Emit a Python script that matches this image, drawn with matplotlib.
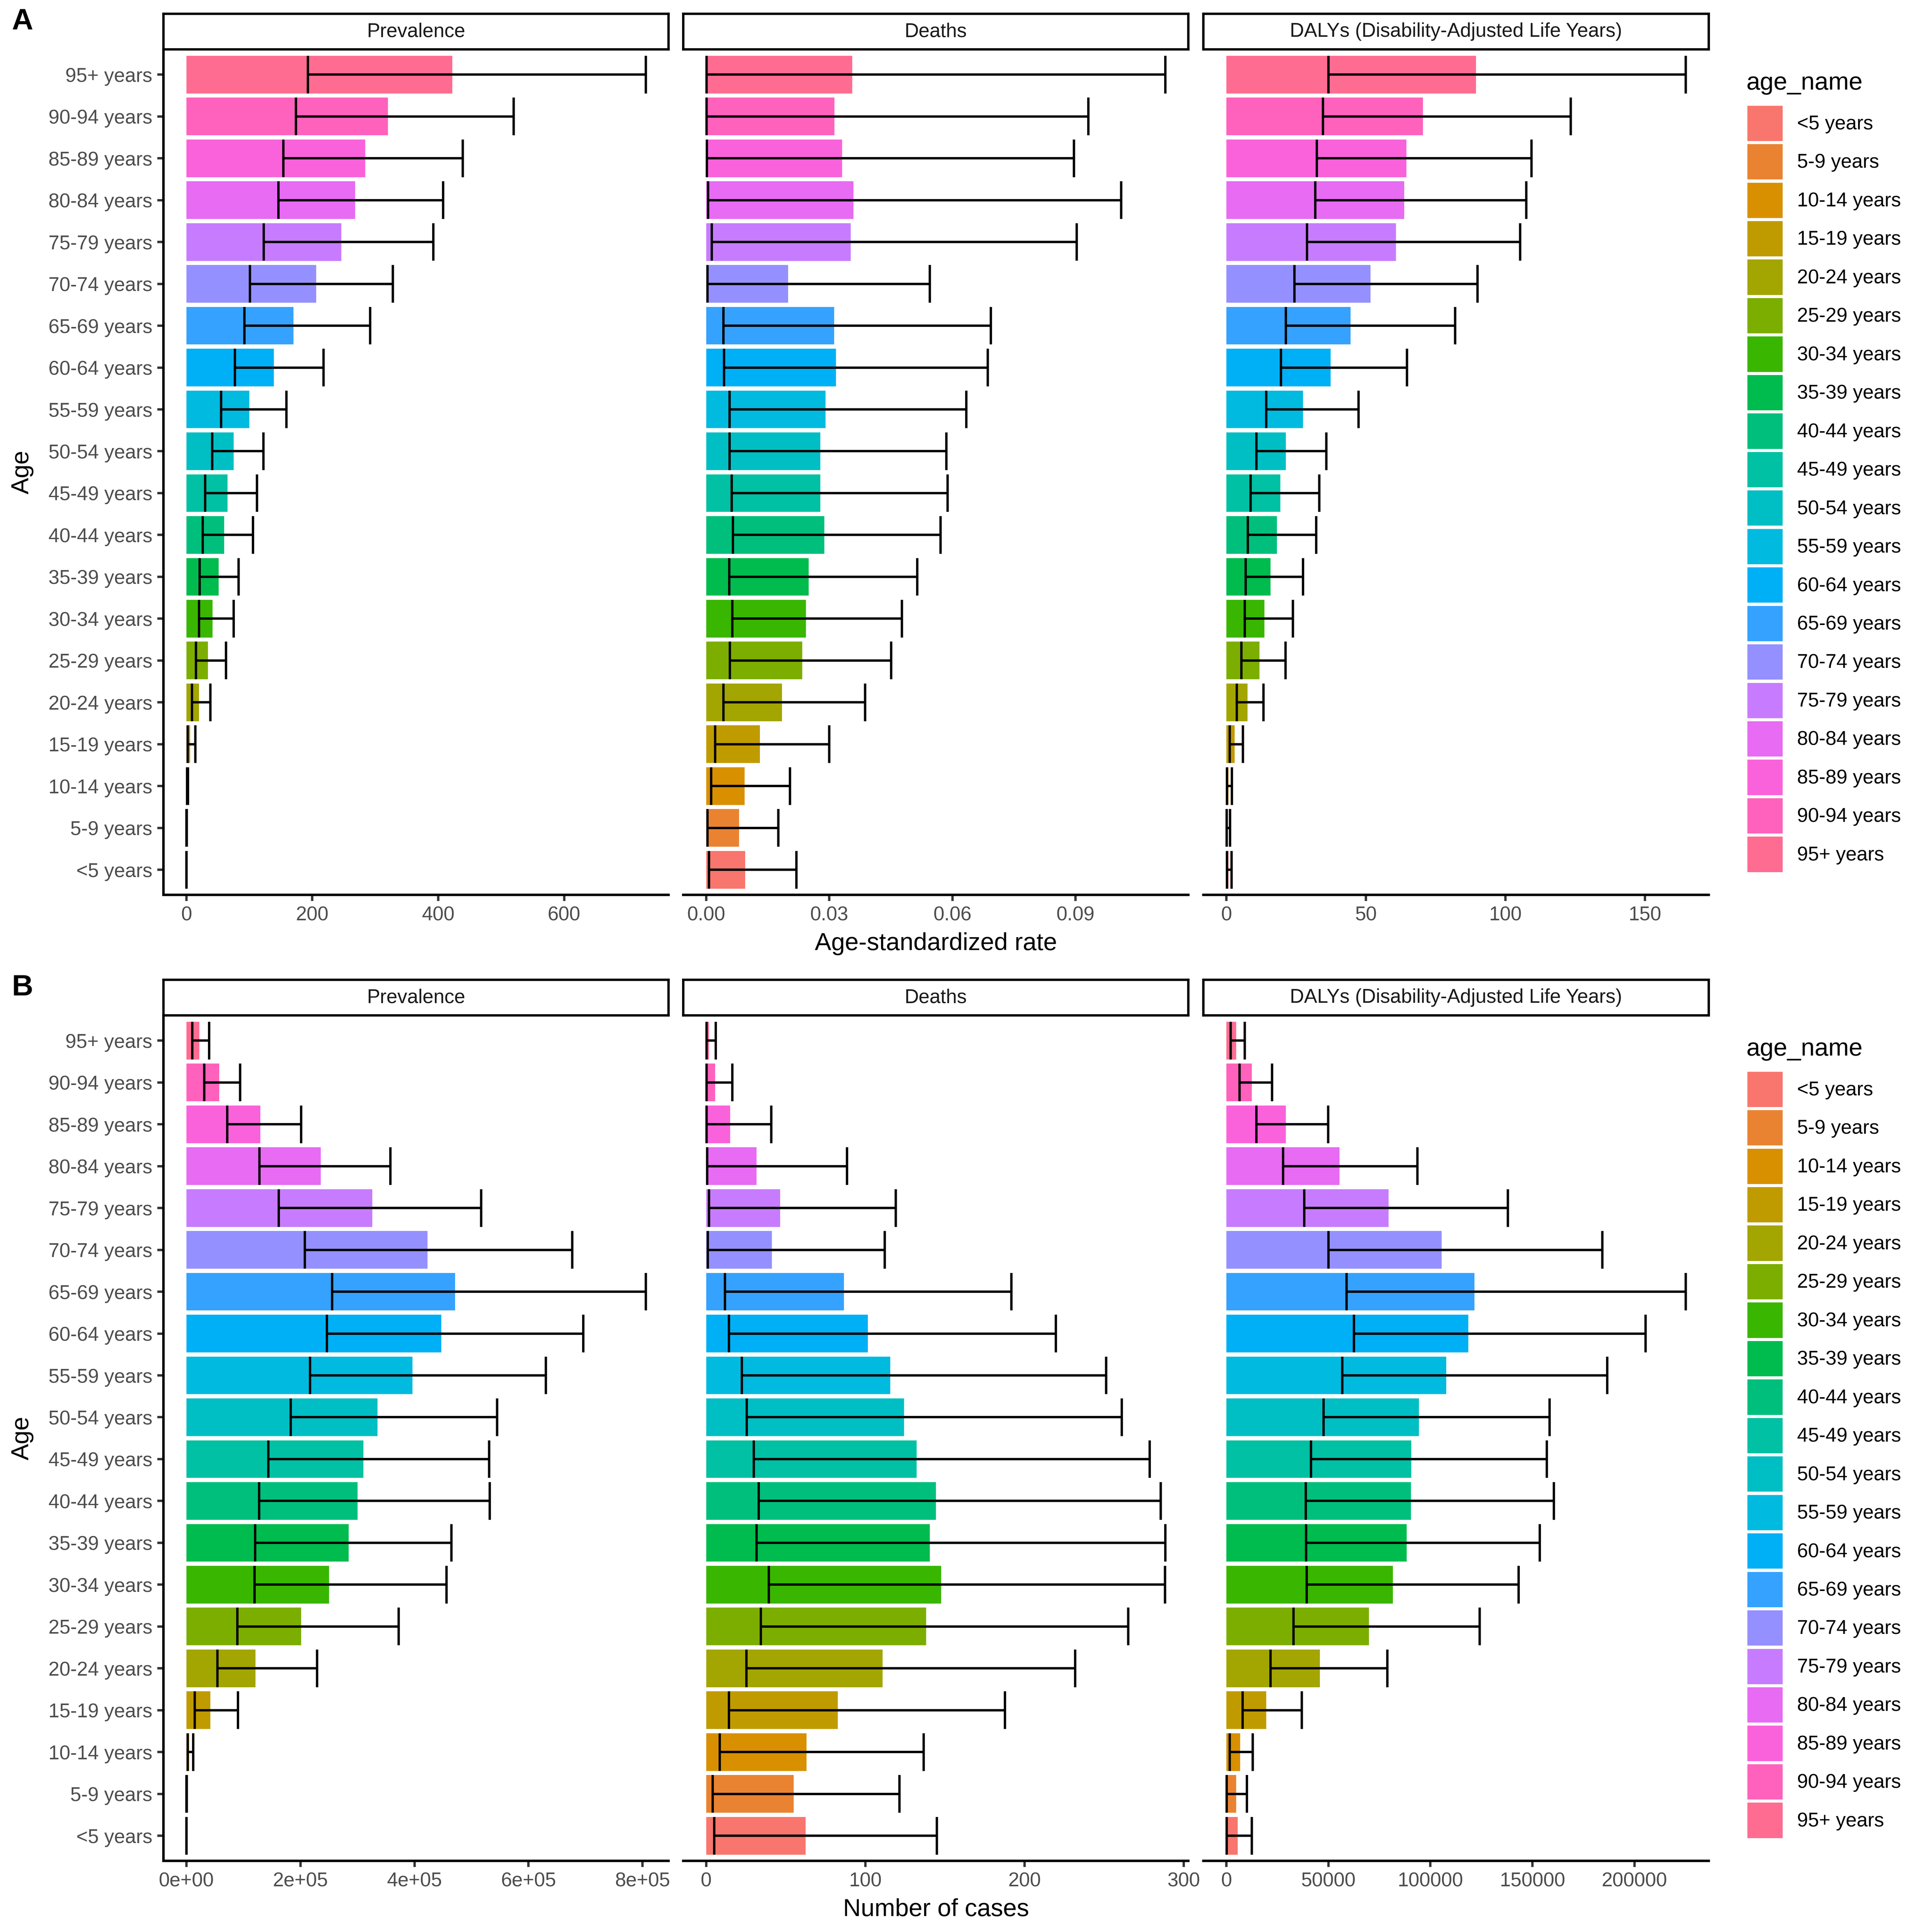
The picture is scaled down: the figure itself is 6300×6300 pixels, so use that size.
import matplotlib
matplotlib.use("Agg")
import matplotlib.pyplot as plt
from matplotlib.patches import Patch
from matplotlib.ticker import FuncFormatter
import numpy as np

plt.rcParams['font.family'] = ['Liberation Sans', 'DejaVu Sans']

# age groups, bottom (<5) to top (95+)
age_names = ["<5 years", "5-9 years", "10-14 years", "15-19 years", "20-24 years",
             "25-29 years", "30-34 years", "35-39 years", "40-44 years", "45-49 years",
             "50-54 years", "55-59 years", "60-64 years", "65-69 years", "70-74 years",
             "75-79 years", "80-84 years", "85-89 years", "90-94 years", "95+ years"]

age_colors = ["#F8766D", "#EA8331", "#D89000", "#C09B00", "#A3A500", "#7CAE00",
              "#39B600", "#00BB4E", "#00BF7D", "#00C1A3", "#00BFC4", "#00BAE0",
              "#00B0F6", "#35A2FF", "#9590FF", "#C77CFF", "#E76BF3", "#FA62DB",
              "#FF62BC", "#FF6C91"]

measures = ["Prevalence", "Deaths", "DALYs (Disability-Adjusted Life Years)"]

# ---- A: age-standardized rate ----
prev_rate = [0.1, 0.3, 2, 6, 20, 34, 41.5, 51, 60, 65.5, 75, 100, 139, 170, 206, 246, 268, 284, 320, 422.5]
prev_rate_lo = [0.05, 0.1, 1, 2, 9, 15, 20, 21, 26, 30, 41, 55, 77, 92, 101, 123, 146, 154, 174, 193]
prev_rate_hi = [0.3, 0.6, 2.5, 14, 38, 63, 75, 83, 106, 112, 122.5, 159, 218, 292, 328, 392, 408, 439, 520, 729.6]

death_rate = [0.0095, 0.0080, 0.0094, 0.0131, 0.0185, 0.0234, 0.0243, 0.0250, 0.0288, 0.0278,
              0.0278, 0.0291, 0.0316, 0.0312, 0.0200, 0.0352, 0.0359, 0.0331, 0.0313, 0.0356]
death_rate_lo = [0.0007, 0.0003, 0.0012, 0.0022, 0.0042, 0.0058, 0.0064, 0.0056, 0.0065, 0.0062,
                 0.0057, 0.0057, 0.0044, 0.0042, 0.0003, 0.0014, 0.0005, 0.0002, 0.0001, 0.0001]
death_rate_hi = [0.0220, 0.0176, 0.0204, 0.0300, 0.0387, 0.0451, 0.0477, 0.0514, 0.0571, 0.0588,
                 0.0585, 0.0634, 0.0686, 0.0694, 0.0545, 0.0903, 0.1011, 0.0896, 0.0931, 0.1119]

daly_rate = [0.8, 0.5, 0.8, 3.0, 7.6, 11.9, 13.6, 15.8, 18.1, 19.3, 21.3, 27.5, 37.3, 44.5, 51.6, 60.8, 63.7, 64.5, 70.4, 89.4]
daly_rate_lo = [0.2, 0.05, 0.2, 1.2, 3.7, 5.4, 6.6, 6.9, 7.7, 8.7, 10.7, 14.3, 19.5, 21.3, 24.4, 28.9, 31.9, 32.4, 34.6, 36.6]
daly_rate_hi = [1.8, 1.3, 2.0, 5.9, 13.3, 21.2, 23.8, 27.5, 32.2, 33.3, 35.8, 47.4, 64.7, 82.0, 90.0, 105.3, 107.5, 109.3, 123.4, 164.6]

# ---- B: number of cases ----
prev_num = [50, 200, 4700, 42000, 121300, 201400, 250400, 284600, 300100, 310200,
            335100, 396500, 447100, 471200, 423000, 325800, 235600, 129800, 57500, 22500]
prev_num_lo = [20, 100, 2300, 14800, 54400, 89400, 119700, 120500, 127500, 143800,
               182700, 216900, 246500, 255800, 207600, 161700, 128300, 71500, 31100, 10100]
prev_num_hi = [120, 500, 11700, 90200, 229400, 372400, 456400, 464900, 531800, 531000,
               545000, 630600, 695900, 805500, 676400, 517000, 357700, 201400, 94100, 39700]

death_num = [62.5, 55.0, 63.0, 82.7, 110.9, 138.1, 147.5, 140.5, 144.3, 132.1,
             124.2, 115.6, 101.5, 86.5, 41.3, 46.5, 31.7, 15.2, 5.6, 1.9]
death_num_lo = [5.1, 4.1, 8.6, 14.3, 25.3, 34.3, 39.4, 31.7, 33.0, 30.0,
                25.5, 22.5, 14.3, 11.8, 1.1, 1.9, 0.6, 0.2, 0.2, 0.2]
death_num_hi = [144.8, 121.4, 136.6, 187.6, 231.7, 265.1, 288.2, 288.4, 285.4, 278.6,
                261.0, 251.2, 219.7, 191.6, 112.2, 119.1, 88.4, 40.9, 16.5, 6.0]

daly_num = [5500, 4800, 6700, 19500, 45800, 69900, 81600, 88300, 90400, 90600,
            94300, 107800, 118600, 121600, 105500, 79500, 55400, 29200, 12400, 4800]
daly_num_lo = [200, 200, 1600, 8000, 21600, 32900, 39300, 39100, 38900, 41400,
               47600, 56800, 62500, 58900, 50100, 38200, 27800, 14700, 6400, 2100]
daly_num_hi = [12400, 10100, 12900, 37000, 78900, 124100, 143200, 153600, 160500, 157000,
               158400, 186700, 205500, 225100, 184200, 137900, 93600, 49900, 22300, 9000]

rows = [
    dict(tag="A", xlabel="Age-standardized rate", bottom=0.5368,
         data=[(prev_rate, prev_rate_lo, prev_rate_hi),
               (death_rate, death_rate_lo, death_rate_hi),
               (daly_rate, daly_rate_lo, daly_rate_hi)],
         ticks=[[0, 200, 400, 600], [0, 0.03, 0.06, 0.09], [0, 50, 100, 150]],
         fmts=["{:g}", "{:.2f}", "{:g}"]),
    dict(tag="B", xlabel="Number of cases", bottom=0.0368,
         data=[(prev_num, prev_num_lo, prev_num_hi),
               (death_num, death_num_lo, death_num_hi),
               (daly_num, daly_num_lo, daly_num_hi)],
         ticks=[[0, 2e5, 4e5, 6e5, 8e5], [0, 100, 200, 300], [0, 50000, 100000, 150000, 200000]],
         fmts=["{:.0e}", "{:g}", "{:.0f}"]),
]

lefts = [0.0846, 0.3536, 0.6229]
pw = 0.2615
ph = 0.4376
strip_h = 0.0185
grey30 = "#4D4D4D"
grey20 = "#333333"
axis_lw = 1.1
err_lw = 1.05

fig = plt.figure(figsize=(12, 12), dpi=525)
y = np.arange(1, len(age_names) + 1)

for row in rows:
    b = row["bottom"]
    for j in range(3):
        val, lo, hi = [np.array(a, dtype=float) for a in row["data"][j]]
        ax = fig.add_axes([lefts[j], b, pw, ph])
        ax.barh(y, val, height=0.9, color=age_colors, linewidth=0)
        ax.hlines(y, lo, hi, color="black", linewidth=err_lw)
        ax.vlines(lo, y - 0.45, y + 0.45, color="black", linewidth=err_lw)
        ax.vlines(hi, y - 0.45, y + 0.45, color="black", linewidth=err_lw)

        xmin = min(0.0, lo.min())
        xmax = hi.max()
        pad = 0.05 * (xmax - xmin)
        ax.set_xlim(xmin - pad, xmax + pad)
        ax.set_ylim(0.4, len(age_names) + 0.6)

        fmt = row["fmts"][j]
        ax.set_xticks(row["ticks"][j])
        ax.xaxis.set_major_formatter(FuncFormatter(lambda v, p, f=fmt: f.format(v)))
        ax.tick_params(axis="x", length=2.75, width=1.05, color=grey20,
                       labelsize=8.8, labelcolor=grey30, pad=2.2)

        for s in ["top", "right"]:
            ax.spines[s].set_visible(False)
        ax.spines["bottom"].set_linewidth(axis_lw)
        if j == 0:
            ax.spines["left"].set_linewidth(axis_lw)
            ax.set_yticks(y)
            ax.set_yticklabels(age_names)
            ax.tick_params(axis="y", length=2.75, width=1.05, color=grey20,
                           labelsize=8.8, labelcolor=grey30, pad=2.2)
        else:
            ax.spines["left"].set_visible(False)
            ax.set_yticks([])

        # facet strip
        sax = fig.add_axes([lefts[j], b + ph, pw, strip_h])
        sax.set_xticks([])
        sax.set_yticks([])
        for s in sax.spines.values():
            s.set_linewidth(1.05)
        sax.text(0.5, 0.5, measures[j], ha="center", va="center",
                 fontsize=8.8, color="#1A1A1A", transform=sax.transAxes)

    # shared axis titles and tag
    fig.text((lefts[0] + lefts[2] + pw) / 2, b - 0.0193, row["xlabel"],
             ha="center", va="top", fontsize=11)
    fig.text(0.0115, b + ph / 2, "Age", rotation=90, ha="center", va="center", fontsize=11)
    fig.text(0.0062, b + ph + 0.0215, row["tag"], ha="left", va="top",
             fontsize=13.2, fontweight="bold")

    # legend: title text + colour keys
    fig.text(0.9039, b + ph - 0.0208, "age_name", ha="left", va="baseline", fontsize=11)
    handles = [Patch(facecolor=c, linewidth=0) for c in age_colors]
    fig.legend(handles, age_names, loc="upper left",
               bbox_to_anchor=(0.9044, b + ph - 0.0291),
               frameon=False, fontsize=8.8,
               handlelength=1.8, handleheight=2.385, labelspacing=0.16,
               handletextpad=0.73, borderpad=0, borderaxespad=0)

fig.savefig("out.png", dpi=525)
